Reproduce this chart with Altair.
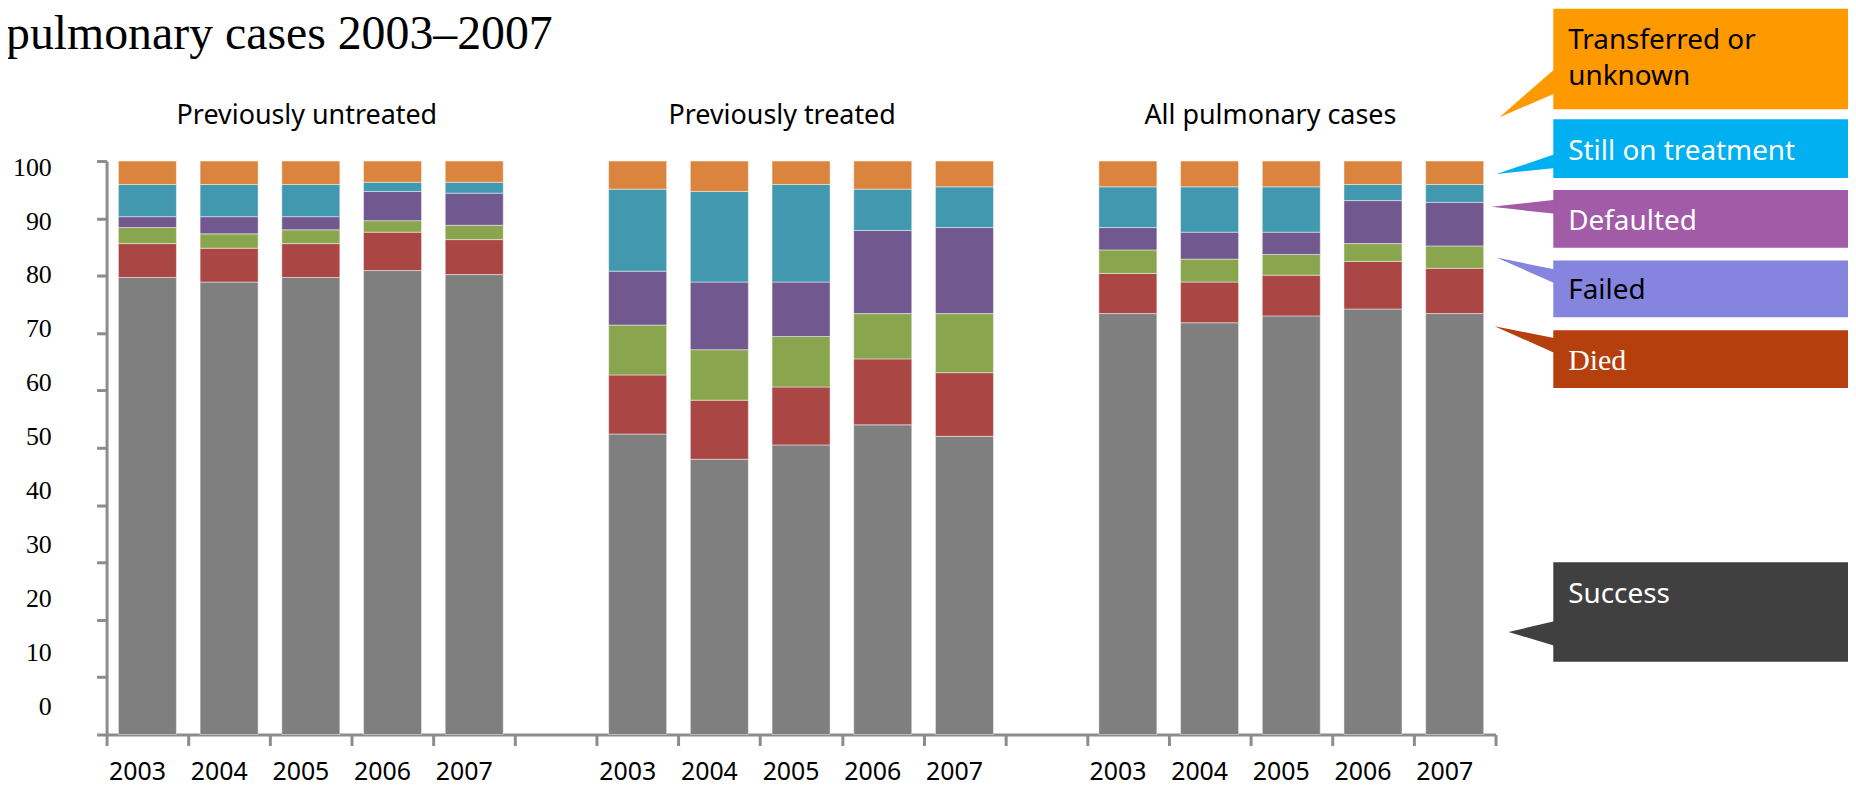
import altair as alt
import pandas as pd

# ---------------- data ----------------
title_text = "pulmonary cases 2003\u20132007"
groups = ["Previously untreated", "Previously treated", "All pulmonary cases"]
years = ["2003", "2004", "2005", "2006", "2007"]
outcomes = ["Success", "Died", "Failed", "Defaulted", "Still on treatment", "Transferred or unknown"]
bar_colors = ["#7F7F7F", "#AA4643", "#89A54E", "#71588F", "#4198AF", "#DB843D"]

untreated_success = [79.7, 78.9, 79.7, 80.9, 80.2]
untreated_died = [5.9, 5.9, 5.9, 6.7, 6.1]
untreated_failed = [2.8, 2.5, 2.4, 2.0, 2.5]
untreated_defaulted = [1.9, 3.0, 2.3, 5.1, 5.6]
untreated_still = [5.6, 5.6, 5.6, 1.6, 1.9]
untreated_transferred = [4.1, 4.1, 4.1, 3.7, 3.7]

treated_success = [52.4, 48.0, 50.5, 54.0, 52.0]
treated_died = [10.3, 10.3, 10.1, 11.5, 11.1]
treated_failed = [8.7, 8.8, 8.8, 7.9, 10.3]
treated_defaulted = [9.4, 11.8, 9.5, 14.5, 15.0]
treated_still = [14.3, 15.8, 17.0, 7.2, 7.1]
treated_transferred = [4.9, 5.3, 4.1, 4.9, 4.5]

all_success = [73.4, 71.8, 73.0, 74.2, 73.4]
all_died = [7.0, 7.1, 7.1, 8.3, 7.9]
all_failed = [4.1, 4.0, 3.6, 3.1, 3.9]
all_defaulted = [3.9, 4.7, 3.9, 7.5, 7.6]
all_still = [7.1, 7.9, 7.9, 2.8, 3.1]
all_transferred = [4.5, 4.5, 4.5, 4.1, 4.1]

y_tick_values = [0, 10, 20, 30, 40, 50, 60, 70, 80, 90, 100]

legend_labels = ["Transferred or\nunknown", "Still on treatment", "Defaulted", "Failed", "Died", "Success"]
legend_fills = ["#FF9900", "#00B0F0", "#A25BA7", "#8585E0", "#B5400D", "#404040"]
legend_text_colors = ["#000000", "#FFFFFF", "#FFFFFF", "#000000", "#FFFFFF", "#FFFFFF"]
legend_fonts = ["Noto Sans", "Noto Sans", "Noto Sans", "Noto Sans", "Liberation Serif", "Noto Sans"]

series = [
    [untreated_success, untreated_died, untreated_failed, untreated_defaulted, untreated_still, untreated_transferred],
    [treated_success, treated_died, treated_failed, treated_defaulted, treated_still, treated_transferred],
    [all_success, all_died, all_failed, all_defaulted, all_still, all_transferred],
]

# ---------------- tables ----------------
slots = []
for gi in range(len(groups)):
    slots += [f"{gi}|{y}" for y in years]
    if gi < len(groups) - 1:
        slots.append(f"gap{gi}")

rows = []
for gi, g in enumerate(groups):
    for yi, yr in enumerate(years):
        for oi, o in enumerate(outcomes):
            rows.append({"slot": f"{gi}|{yr}", "group": g, "year": yr,
                         "outcome": o, "ord": oi, "value": series[gi][oi][yi]})
df = pd.DataFrame(rows)
year_df = pd.DataFrame([{"slot": f"{gi}|{yr}", "year": yr}
                        for gi in range(len(groups)) for yr in years])

# ---------------- layout (page px -> plot px) ----------------
W, H = 1395, 576
PL, PT = 99, 152
OX, OY = PL + 8, PT + 8


def px(x):
    return x - OX


def py(y):
    return y - OY


AX = "#8C8C8C"
xscale = alt.Scale(domain=slots, paddingInner=0, paddingOuter=0)

bars = alt.Chart(df).mark_bar(
    width=alt.RelativeBandSize(0.71), stroke="#FFFFFF", strokeOpacity=0.45, strokeWidth=1
).encode(
    x=alt.X("slot:N", scale=xscale, sort=slots, title=None,
            axis=alt.Axis(tickBand="extent", tickSize=11, tickWidth=3, tickColor=AX,
                          domainColor=AX, domainWidth=3, labels=False, grid=False)),
    y=alt.Y("value:Q", stack="zero", scale=alt.Scale(domain=[0, 100], nice=False), title=None,
            axis=alt.Axis(values=y_tick_values, labels=False, tickSize=10, tickWidth=3,
                          tickColor=AX, domainColor=AX, domainWidth=3, grid=False)),
    color=alt.Color("outcome:N", scale=alt.Scale(domain=outcomes, range=bar_colors), legend=None),
    order=alt.Order("ord:Q", sort="ascending"),
)

xlabels = alt.Chart(year_df).mark_text(
    font="Noto Sans", fontSize=25, baseline="alphabetic", color="#000000", dx=-10
).encode(x=alt.X("slot:N", scale=xscale, sort=slots), y=alt.value(py(782)), text="year:N")

ylabels = alt.Chart(pd.DataFrame({"v": y_tick_values})).mark_text(
    font="Liberation Serif", fontSize=26, align="right", baseline="middle", color="#000000"
).encode(
    y=alt.Y("v:Q", scale=alt.Scale(domain=[-5.17, 101.24], nice=False, zero=False), axis=None),
    x=alt.value(px(52)),
    text=alt.Text("v:Q"),
)

title = alt.Chart(pd.DataFrame({"t": [title_text]})).mark_text(
    font="Liberation Serif", fontSize=48, align="left", baseline="alphabetic", color="#000000"
).encode(x=alt.value(px(6)), y=alt.value(py(47)), text="t:N")

layers = [bars, xlabels, ylabels, title]

title_dx = [-4, -19, -21]
for gi, g in enumerate(groups):
    layers.append(
        alt.Chart(pd.DataFrame({"slot": [f"{gi}|2005"], "t": [g]})).mark_text(
            font="Noto Sans", fontSize=27, baseline="middle", color="#000000", dx=title_dx[gi]
        ).encode(x=alt.X("slot:N", scale=xscale, sort=slots), y=alt.value(py(115)), text="t:N")
    )

# callout legend: box (top, bottom), text centre y, pointer (base top, tip x, tip y, base bottom)
box_x1, box_x2, text_x = 1560, 1856, 1575
boxes = [(7, 108), (118, 177), (189, 247), (260, 317), (330, 388), (563, 663)]
text_ys = [(39, 76), (151,), (221,), (291,), (361,), (596,)]
pointers = [(67, 1506, 116, 92), (153, 1503, 173, 167), (199, 1498, 206, 213),
            (269, 1503, 257, 283), (338, 1501, 326, 353), (622, 1515, 633, 647)]

for i, lab in enumerate(legend_labels):
    dummy = pd.DataFrame({"t": [lab]})
    y1, y2 = boxes[i]
    layers.append(alt.Chart(dummy).mark_rect(color=legend_fills[i], opacity=1).encode(
        x=alt.value(px(box_x1)), x2=alt.value(px(box_x2)),
        y=alt.value(py(y1)), y2=alt.value(py(y2))))
    bt, tx, ty, bb = pointers[i]
    ay = (bt + bb) / 2
    path = f"M2,{bt - ay}L{tx - box_x1},{ty - ay}L2,{bb - ay}Z"
    layers.append(alt.Chart(dummy).mark_point(
        shape=path, size=4, filled=True, fill=legend_fills[i], opacity=1, strokeWidth=0
    ).encode(x=alt.value(px(box_x1)), y=alt.value(py(ay))))
    for li, line in enumerate(lab.split("\n")):
        layers.append(alt.Chart(pd.DataFrame({"t": [line]})).mark_text(
            font=legend_fonts[i], fontSize=30 if legend_fonts[i] != "Noto Sans" else 28,
            align="left", baseline="middle", color=legend_text_colors[i]
        ).encode(x=alt.value(px(text_x)), y=alt.value(py(text_ys[i][li])), text="t:N"))

chart = alt.layer(*layers).resolve_scale(y="independent").properties(
    width=W, height=H,
    autosize=alt.AutoSizeParams(type="none"),
    padding={"left": PL, "top": PT, "right": 354, "bottom": 781 - PT - H},
    background="#FFFFFF",
).configure_view(stroke=None)

chart.save("out.html", embed_options={"renderer": "svg", "actions": False})
